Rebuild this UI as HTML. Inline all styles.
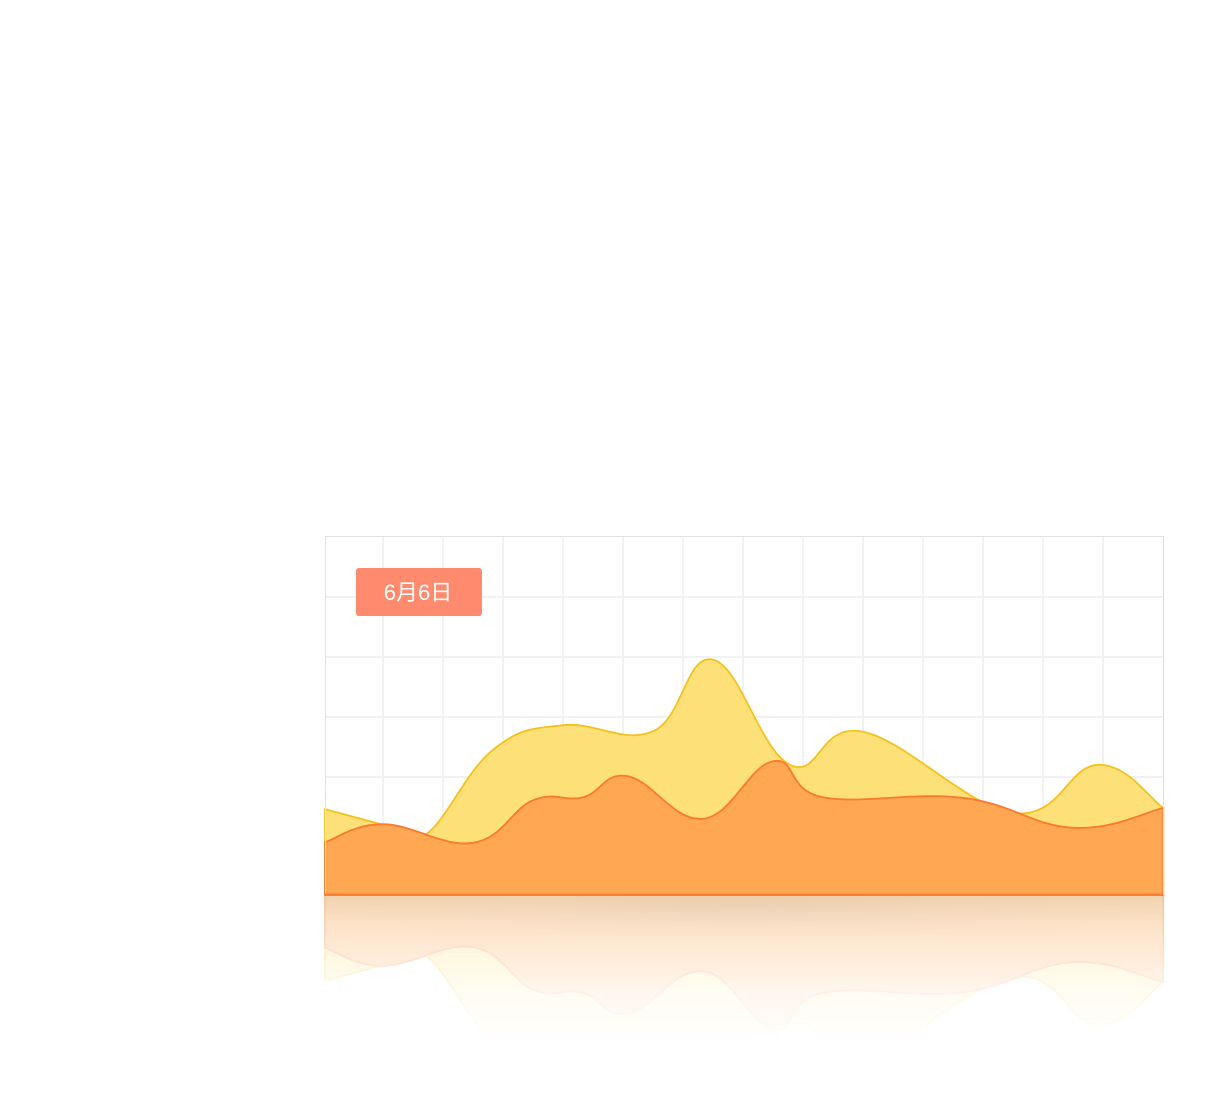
<!DOCTYPE html>
<html><head><meta charset="utf-8"><style>
html,body{margin:0;padding:0;background:#fff;width:1208px;height:1120px;overflow:hidden}
svg{position:absolute;left:0;top:0}
</style></head><body>
<svg width="1208" height="1120" xmlns="http://www.w3.org/2000/svg">
<defs>
<radialGradient id="glow" cx="0.5" cy="0.5" r="0.5">
<stop offset="0" stop-color="#dfe6f2" stop-opacity="0.7"/><stop offset="1" stop-color="#fff" stop-opacity="0"/>
</radialGradient>
<linearGradient id="fade" x1="0" y1="0" x2="0" y2="1">
<stop offset="0" stop-color="#fff" stop-opacity="0.45"/><stop offset="0.6" stop-color="#fff" stop-opacity="0.12"/><stop offset="1" stop-color="#fff" stop-opacity="0"/>
</linearGradient>
<mask id="rmask"><rect x="300" y="895" width="900" height="150" fill="url(#fade)"/></mask>
<linearGradient id="shade" x1="0" y1="0" x2="0" y2="1">
<stop offset="0" stop-color="#d8c8a8" stop-opacity="0.35"/><stop offset="1" stop-color="#fff" stop-opacity="0"/>
</linearGradient>
</defs>
<ellipse cx="744" cy="905" rx="480" ry="40" fill="url(#glow)"/>
<g id="grid"></g>
<g id="main"></g>
<g mask="url(#rmask)"><g id="refl" transform="translate(0,1790) scale(1,-1)"></g></g>
<rect x="325" y="896" width="838" height="60" fill="url(#shade)"/>
<rect x="325.5" y="536.5" width="838" height="358" fill="none" stroke="#e2e2e2"/>
<line x1="325" y1="894.5" x2="1163" y2="894.5" stroke="#fb7a2c" stroke-width="1.8"/>
<rect x="356" y="568" width="126" height="48" rx="3" fill="#ff8a6e"/>
<text x="418" y="600" text-anchor="middle" font-size="22" fill="#fff" font-family="Liberation Sans, Noto Sans CJK SC, sans-serif">6月6日</text>
</svg>
<script>
const xsA=[0,0.97,1.67,2.8,3.97,5.47,6.47,7.75,8.97,11.47,12.88,13.97];
const valsA=[14.3,11.7,10,24.2,28.3,27.3,39.2,21.7,27.2,13.7,21.7,14.5];
const xsB=[0,0.97,2.47,3.47,4.3,5.05,6.3,7.47,8.3,10.63,12.47,13.97];
const valsB=[8.8,11.8,8.7,15.8,16.3,19.8,12.7,22.3,16.3,16.2,11.2,14.5];
const X0=325,W=838,Y0=895,PX=60,PV=6;
const sx=d=>X0+d*PX, sy=v=>Y0-v*PV;
const NS='http://www.w3.org/2000/svg';
const grid=document.getElementById('grid');
for(let i=1;i<14;i++){const l=document.createElementNS(NS,'line');
l.setAttribute('x1',323+i*60);l.setAttribute('x2',323+i*60);l.setAttribute('y1',537);l.setAttribute('y2',895);
l.setAttribute('stroke','#eeeeee');l.setAttribute('stroke-width','1.5');

grid.appendChild(l);}
for(let i=1;i<6;i++){const l=document.createElementNS(NS,'line');
l.setAttribute('x1',325);l.setAttribute('x2',1163);l.setAttribute('y1',897-i*60);l.setAttribute('y2',897-i*60);
l.setAttribute('stroke','#eeeeee');l.setAttribute('stroke-width','1.5');

grid.appendChild(l);}
function curve(xs,vs){const p=xs.map((x,i)=>[sx(x),sy(vs[i])]);let d='M'+p[0][0]+','+p[0][1];
for(let i=0;i<p.length-1;i++){const p0=p[Math.max(0,i-1)],p1=p[i],p2=p[i+1],p3=p[Math.min(p.length-1,i+2)];
const t=0.2;const c1=[p1[0]+(p2[0]-p0[0])*t,p1[1]+(p2[1]-p0[1])*t],c2=[p2[0]-(p3[0]-p1[0])*t,p2[1]-(p3[1]-p1[1])*t];
d+=' C'+c1+' '+c2+' '+p2;}return d;}
function draw(g,refl){
const lA=curve(xsA,valsA),lB=curve(xsB,valsB);
const base=' L'+sx(xsA[xsA.length-1])+','+Y0+' L'+X0+','+Y0+' Z';
const a=document.createElementNS(NS,'path');a.setAttribute('d',lA+base);a.setAttribute('fill','#fee078');a.setAttribute('stroke','#f5c21d');a.setAttribute('stroke-width','1.8');

g.appendChild(a);
const b=document.createElementNS(NS,'path');b.setAttribute('d',lB+base);b.setAttribute('fill','#ffa552');b.setAttribute('stroke','#fb7a2c');b.setAttribute('stroke-width','1.8');b.setAttribute('fill-opacity','0.97');

g.appendChild(b);}
draw(document.getElementById('main'),false);
draw(document.getElementById('refl'),true);
</script>
</body></html>
